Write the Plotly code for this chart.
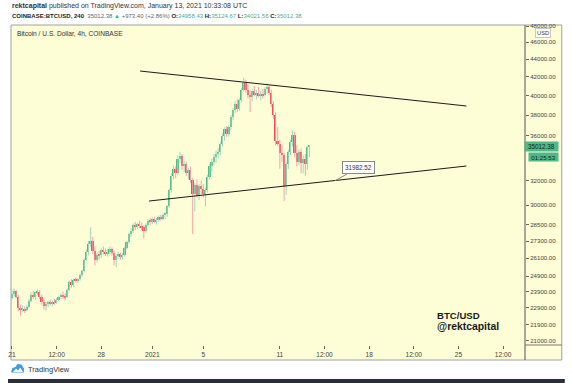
import plotly.graph_objects as go
import pandas as pd
import math

# ---------------- data (4h candles, COINBASE:BTCUSD) ----------------
start_time = "2020-12-21 00:00"
opens = [
    23480, 23750, 23950, 23600, 22900, 22800,
    22850, 22750, 22950, 23300, 23700, 23550,
    23850, 23900, 23550, 23250, 23000, 23150,
    23250, 23150, 23250, 23200, 23400, 23550,
    23700, 23600, 23550, 24000, 24500, 24300,
    24650, 24600, 24700, 24950, 25250, 26000,
    26500, 27100, 27300, 26600, 26000, 26350,
    26300, 26650, 26500, 26400, 26550, 26700,
    26450, 26000, 26250, 26400, 26150, 26300,
    26800, 27200, 27800, 28000, 28450, 28300,
    28550, 28400, 28300, 28000, 28500, 28800,
    28700, 28900, 28750, 28850, 29050, 28950,
    29250, 29300, 29900, 31200, 32400, 33000,
    32600, 33900, 34100, 33200, 33400, 32600,
    32900, 32000, 30900, 31600, 30800, 31500,
    31300, 30900, 31200, 32300, 33200, 33600,
    34000, 34300, 34500, 35200, 36000, 36600,
    36200, 36800, 37800, 38500, 39100, 38600,
    39500, 40600, 41300, 40600, 40100, 39800,
    40500, 40100, 40300, 39900, 40200, 40000,
    40700, 40900, 40300, 39100, 38000, 35500,
    35200, 34400, 34200, 31500, 33400, 34500,
    35400, 36100, 34400, 33600, 34500, 33500,
    33900, 33400, 34958.43,
]
highs = [
    24050, 24100, 24000, 23700, 23100, 23050,
    23000, 23100, 23450, 23850, 23950, 23900,
    24050, 24000, 23700, 23400, 23300, 23350,
    23400, 23350, 23450, 23500, 23650, 23780,
    23900, 23800, 24100, 24600, 24700, 24750,
    24800, 24750, 25050, 25350, 26100, 26700,
    27300, 28300, 27600, 26900, 26500, 26600,
    26800, 26900, 26750, 26700, 26900, 26850,
    26600, 26350, 26550, 26500, 26450, 26900,
    27300, 27900, 28200, 28600, 28700, 28650,
    28800, 28650, 28450, 28600, 28900, 29000,
    29050, 29100, 29000, 29200, 29250, 29350,
    29450, 30000, 31300, 32600, 33300, 33200,
    34200, 34500, 34300, 33700, 33600, 33100,
    33200, 32200, 31800, 32100, 31700, 32000,
    31700, 31400, 32500, 33400, 33900, 34300,
    34600, 34800, 35400, 36200, 36800, 36900,
    37000, 38000, 38700, 39400, 39600, 39700,
    40800, 41900, 41700, 41200, 40500, 40700,
    41000, 40600, 40900, 40500, 40700, 40900,
    41300, 41100, 40600, 39400, 38300, 36800,
    35600, 35100, 34400, 33600, 34700, 35600,
    36500, 36400, 35100, 34700, 34800, 34200,
    34300, 35000, 35124.67,
]
lows = [
    23400, 23600, 23500, 22700, 22450, 22650,
    22600, 22700, 22900, 23250, 23450, 23400,
    23700, 23450, 23100, 22800, 22750, 22950,
    23050, 23000, 23100, 23150, 23300, 23450,
    23450, 23400, 23500, 23950, 24150, 24200,
    24500, 24450, 24600, 24850, 25150, 25900,
    26300, 26900, 26400, 25600, 25800, 26000,
    26100, 26350, 26250, 26200, 26400, 26300,
    25600, 25500, 26050, 26000, 26000, 26200,
    26700, 27100, 27600, 27900, 28100, 28150,
    28250, 28100, 27500, 27900, 28400, 28500,
    28550, 28600, 28500, 28700, 28800, 28850,
    28900, 29100, 29800, 31000, 32100, 32200,
    32500, 33500, 32900, 32700, 32400, 32100,
    31800, 27800, 29500, 30600, 30400, 30900,
    30600, 29900, 31000, 32100, 32800, 33300,
    33500, 33900, 34200, 35000, 35500, 35900,
    35900, 36500, 37500, 38200, 38300, 38400,
    39300, 40400, 40300, 39700, 38300, 39400,
    39900, 39600, 39800, 39500, 39700, 39900,
    40200, 40000, 38800, 37600, 35100, 35000,
    33000, 33600, 30300, 30800, 33000, 34200,
    35000, 34000, 33200, 33300, 32600, 32600,
    32400, 32900, 34021.56,
]
closes = [
    23750, 23950, 23600, 22900, 22800, 22850,
    22750, 22950, 23300, 23700, 23550, 23850,
    23900, 23550, 23250, 23000, 23150, 23250,
    23150, 23250, 23200, 23400, 23550, 23700,
    23600, 23550, 24000, 24500, 24300, 24650,
    24600, 24700, 24950, 25250, 26000, 26500,
    27100, 27300, 26600, 26000, 26350, 26300,
    26650, 26500, 26400, 26550, 26700, 26450,
    26000, 26250, 26400, 26150, 26300, 26800,
    27200, 27800, 28000, 28450, 28300, 28550,
    28400, 28300, 28000, 28500, 28800, 28700,
    28900, 28750, 28850, 29050, 28950, 29250,
    29300, 29900, 31200, 32400, 33000, 32600,
    33900, 34100, 33200, 33400, 32600, 32900,
    32000, 30900, 31600, 30800, 31500, 31300,
    30900, 31200, 32300, 33200, 33600, 34000,
    34300, 34500, 35200, 36000, 36600, 36200,
    36800, 37800, 38500, 39100, 38600, 39500,
    40600, 41300, 40600, 40100, 39800, 40500,
    40100, 40300, 39900, 40200, 40000, 40700,
    40900, 40300, 39100, 38000, 35500, 35200,
    34400, 34200, 31500, 33400, 34500, 35400,
    36100, 34400, 33600, 34500, 33500, 33900,
    33400, 34958.43, 35012.38,
]

# trend lines (drawn by hand on the original chart)
upper_line_x = ["2020-12-31 01:00", "2021-01-25 15:00"]
upper_line_y = [42650, 38910]
lower_line_x = ["2020-12-31 18:00", "2021-01-25 15:00"]
lower_line_y = [30320, 33240]
callout_x = "2021-01-15 08:00"
callout_value = 31982.52

last_price = 35012.38
countdown = "01:25:53"

y_tick_vals = [48000, 46000, 44000, 42000, 40000, 38000, 36000, 32000, 30000,
               28500, 27300, 26100, 24900, 23900, 22900, 21900, 21000]
x_tick_vals = ["2020-12-21", "2020-12-24 12:00", "2020-12-28", "2021-01-01",
               "2021-01-05", "2021-01-11", "2021-01-14 12:00", "2021-01-18",
               "2021-01-21 12:00", "2021-01-25", "2021-01-28 12:00"]
x_tick_text = ["21", "12:00", "28", "2021", "5", "11", "12:00", "18", "12:00", "25", "12:00"]

# ---------------- geometry helpers ----------------
W, H = 572, 383
L, R, T, B = 8, 47, 25, 38
PW = W - L - R
PH = H - T - B


def px(x):
    return (x - L) / PW


def py(y):
    return (H - B - y) / PH


UP, DOWN = "#53b987", "#eb4d5c"
UP_WICK, DOWN_WICK = "#9fd9bb", "#f3a3aa"
BG = "#fdfdd6"
FONT = "Liberation Sans, Arial, sans-serif"

times = pd.date_range(start_time, periods=len(opens), freq="4h")

fig = go.Figure()

# wicks
for is_up, col in [(True, UP_WICK), (False, DOWN_WICK)]:
    xs, ys = [], []
    for t, o, h, l, c in zip(times, opens, highs, lows, closes):
        if (c >= o) == is_up:
            xs += [t, t, None]
            ys += [l, h, None]
    fig.add_trace(go.Scatter(x=xs, y=ys, mode="lines", line=dict(color=col, width=1),
                             hoverinfo="skip", showlegend=False))

# bodies
for is_up, col in [(True, UP), (False, DOWN)]:
    bx, bb, bh = [], [], []
    for t, o, c in zip(times, opens, closes):
        if (c >= o) == is_up:
            lo = min(o, c)
            bx.append(t)
            bb.append(lo)
            bh.append(max(abs(c - o), lo * 0.003))
    fig.add_trace(go.Bar(x=bx, y=bh, base=bb, width=4 * 3600 * 1000 * 0.8,
                         marker=dict(color=col, line=dict(width=0)),
                         showlegend=False, hoverinfo="skip"))

# trend lines
for lx, ly in [(upper_line_x, upper_line_y), (lower_line_x, lower_line_y)]:
    fig.add_trace(go.Scatter(x=lx, y=ly, mode="lines", line=dict(color="#1b1b1b", width=1),
                             showlegend=False, hoverinfo="skip"))

shapes = [
    dict(type="rect", xref="paper", yref="paper", x0=px(8), x1=px(562), y0=py(360), y1=py(25),
         fillcolor=BG, line=dict(color="#a0a0a0", width=1), layer="below"),
    dict(type="line", xref="paper", yref="paper", x0=px(525), x1=px(525), y0=py(360), y1=py(25),
         line=dict(color="#555555", width=1)),
    dict(type="line", xref="paper", yref="paper", x0=px(525), x1=px(562), y0=py(345), y1=py(345),
         line=dict(color="#777777", width=1)),
    dict(type="rect", xref="paper", yref="paper", x0=px(5), x1=px(565), y0=py(383), y1=py(379),
         fillcolor="#2a2e39", line=dict(width=0)),
    dict(type="path", xref="paper", yref="paper",
         path="M {},{} L {},{} L {},{} L {},{} L {},{} L {},{} L {},{} Z".format(
             px(8), py(372.5), px(9.5), py(368), px(12.5), py(367), px(14.5), py(364),
             px(18.5), py(364.5), px(21), py(368.5), px(21), py(372.5)),
         fillcolor="#3c9ae2", line=dict(width=0)),
    dict(type="path", xref="paper", yref="paper",
         path="M {},{} L {},{} L {},{} L {},{} L {},{} Z".format(
             px(10), py(372), px(13), py(368.5), px(15), py(370.5), px(17.5), py(367.5),
             px(20), py(372)),
         fillcolor="#ffffff", line=dict(width=0)),
]

ann = []


def text(x, y, s, size=7, color="#333", anchor="left", **kw):
    ann.append(dict(xref="paper", yref="paper", x=px(x), y=py(y), text=s, showarrow=False,
                    xanchor=anchor, yanchor="middle",
                    font=dict(size=size, color=color, family=FONT), **kw))


text(7, 6.5, "<b>rektcapital</b> published on TradingView.com, January 13, 2021 10:33:08 UTC",
     size=7.0, color="#333")
G = "#3fae95"
text(7, 16.5,
     "<b>COINBASE:BTCUSD, 240</b>  <span style='color:#666'>35012.38</span> "
     "<span style='color:%s'>▲</span> <span style='color:#666'>+973.40 (+2.86%%)</span> "
     "<b>O:</b><span style='color:%s'>34958.43</span> <b>H:</b><span style='color:%s'>35124.67</span> "
     "<b>L:</b><span style='color:%s'>34021.56</span> <b>C:</b><span style='color:%s'>35012.38</span>"
     % (G, G, G, G, G), size=6.0, color="#222")
text(12, 34, "Bitcoin / U.S. Dollar, 4h, COINBASE", size=6.6, color="#333")
text(434, 315.5, "<b>BTC/USD</b>", size=9.6, color="#1a1a1a")
text(434, 326.5, "<b>@rektcapital</b>", size=10.4, color="#1a1a1a")
text(23, 369, "TradingView", size=7.5, color="#333")

# USD label
ann.append(dict(xref="paper", yref="paper", x=px(543.5), y=py(33), text="USD", showarrow=False,
                xanchor="center", yanchor="middle", font=dict(size=5.8, color="#444", family=FONT),
                bgcolor="#fffff2", bordercolor="#c8c8c8", borderwidth=1, borderpad=1))
# last price tag
ann.append(dict(xref="paper", yref="y", x=px(524), y=math.log10(last_price),
                text="%.2f" % last_price, showarrow=False, xanchor="left", yanchor="middle",
                width=33, height=9, bgcolor="#52b788", borderpad=0,
                font=dict(size=6.3, color="#10261c", family=FONT)))
ann.append(dict(xref="paper", yref="paper", x=px(528), y=py(156.5), text=countdown,
                showarrow=False, xanchor="left", yanchor="middle", width=29, height=8,
                bgcolor="#52b788", borderpad=0, font=dict(size=6.1, color="#10261c", family=FONT)))
# trendline price callout
ann.append(dict(xref="x", yref="y", x=callout_x, y=math.log10(callout_value),
                text="%.2f" % callout_value, showarrow=True, arrowhead=0, arrowwidth=1,
                arrowcolor="#8a8a8a", ax=23, ay=-13, bgcolor="#ffffff", bordercolor="#8a8a8a",
                borderwidth=1, borderpad=2, font=dict(size=6.3, color="#333", family=FONT)))

fig.update_layout(
    width=W, height=H,
    margin=dict(l=L, r=R, t=T, b=B),
    paper_bgcolor="white", plot_bgcolor=BG,
    barmode="overlay", bargap=0,
    showlegend=False,
    shapes=shapes, annotations=ann,
    font=dict(family=FONT),
    xaxis=dict(type="date", range=["2020-12-20 22:08", "2021-01-30 05:17"],
               tickvals=x_tick_vals, ticktext=x_tick_text, ticks="outside", ticklen=3,
               tickcolor="#666", tickfont=dict(size=6.6, color="#444"), showgrid=False,
               zeroline=False, showline=False, rangeslider=dict(visible=False), fixedrange=True),
    yaxis=dict(type="log", side="right", range=[math.log10(20779), math.log10(48126)],
               tickvals=y_tick_vals, ticktext=["%.2f" % v for v in y_tick_vals],
               ticks="outside", ticklen=3, tickcolor="#666",
               tickfont=dict(size=6.1, color="#444"), showgrid=False, zeroline=False,
               showline=False, fixedrange=True),
)

fig.write_html("out.html", config={"displayModeBar": False},
               post_script="document.body.style.margin='0px';document.body.style.padding='0px';"
                           "document.documentElement.style.overflow='hidden';")
